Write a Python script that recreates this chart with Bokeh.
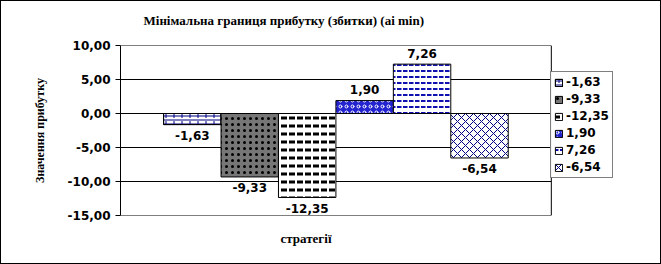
from bokeh.plotting import figure
from bokeh.models import (ColumnDataSource, Range1d, FixedTicker, LabelSet,
                          Legend, LegendItem, Title)
from bokeh.core.properties import value
from bokeh.embed import file_html
from bokeh.resources import INLINE

# ---- data ----
values = [-1.63, -9.33, -12.35, 1.90, 7.26, -6.54]
value_labels = ["-1,63", "-9,33", "-12,35", "1,90", "7,26", "-6,54"]
y_ticks = [-15, -10, -5, 0, 5, 10]
y_tick_labels = ["-15,00", "-10,00", "-5,00", "0,00", "5,00", "10,00"]
title_text = "Мінімальна границя прибутку (збитки) (аі min)"
y_title = "Значення прибутку"
x_title = "стратегії"

# ---- fill / hatch layers for each bar (styles only) ----
layers = [
    [dict(fill="white", pat="horizontal_line", hc="#000080", sc=4, w=1),
     dict(fill=None, pat="vertical_dash", hc="#000080", sc=8, w=1)],
    [dict(fill="#767676", pat="dot", hc="black", sc=6, w=1)],
    [dict(fill="white", pat="horizontal_dash", hc="black", sc=8, w=3)],
    [dict(fill="#2323d0", pat="ring", hc="white", sc=6, w=1)],
    [dict(fill="white", pat="horizontal_dash", hc="#1010b0", sc=6, w=2)],
    [dict(fill="white", pat="diagonal_cross", hc="#000080", sc=8, w=1)],
]

n = len(values)
x_lo, x_hi = -1.25, n + 0.25          # plot-area extent in category units
p = figure(width=661, height=264, output_backend="svg", toolbar_location=None,
           x_range=Range1d(x_lo, x_lo + 8.6), y_range=Range1d(y_ticks[0], y_ticks[-1]),
           min_border_left=119, min_border_right=48, min_border_top=44,
           min_border_bottom=50)
p.styles = {"border": "1px solid black", "box-sizing": "border-box"}
p.background_fill_color = "white"
p.border_fill_color = "white"
p.outline_line_color = None

p.xaxis.visible = False
p.xgrid.visible = False
p.ygrid.visible = False

# plot-area grid lines and right edge
p.segment(x0=[x_lo] * len(y_ticks), x1=[x_hi] * len(y_ticks), y0=y_ticks, y1=y_ticks,
          line_color="black", line_width=1, level="underlay")
p.segment(x0=[x_hi], x1=[x_hi], y0=[y_ticks[0]], y1=[y_ticks[-1]],
          line_color="black", line_width=1, level="underlay")

ya = p.yaxis[0]
ya.ticker = FixedTicker(ticks=y_ticks)
ya.major_label_overrides = {t: l for t, l in zip(y_ticks, y_tick_labels)}
ya.major_label_text_font = "DejaVu Sans"
ya.major_label_text_font_style = "bold"
ya.major_label_text_font_size = "12px"
ya.major_label_text_color = "black"
ya.major_tick_out = 5
ya.major_tick_in = 0
ya.minor_tick_out = 0
ya.minor_tick_in = 0
ya.major_label_standoff = 5
ya.axis_line_color = "black"
ya.major_tick_line_color = "black"
ya.axis_label = y_title
ya.axis_label_text_font = "Liberation Serif"
ya.axis_label_text_font_style = "bold"
ya.axis_label_text_font_size = "12px"
ya.axis_label_text_color = "black"
ya.axis_label_standoff = 18

p.title = Title(text=title_text + "\n ", align="left", offset=23,
                text_font="Liberation Serif", text_font_style="bold",
                text_font_size="13px", text_color="black",
                text_line_height=0.85)
p.add_layout(Title(text=x_title, align="left", offset=160,
                   text_font="Liberation Serif", text_font_style="bold",
                   text_font_size="13px", text_color="black", standoff=27), "below")

items = []
for i, (v, lab, lay) in enumerate(zip(values, value_labels, layers)):
    src = ColumnDataSource(dict(x=[i], top=[v]))
    rs = []
    for L in lay:
        r = p.vbar(x="x", top="top", bottom=0, width=1, source=src,
                   fill_color=L["fill"], line_color="black", line_width=1,
                   hatch_pattern=L["pat"], hatch_color=L["hc"],
                   hatch_scale=L["sc"], hatch_weight=L["w"])
        rs.append(r)
    items.append(LegendItem(label=lab, renderers=rs))

lab_src = ColumnDataSource(dict(
    x=list(range(n)), y=values, text=value_labels,
    yoff=[-11 if v < 0 else 11 for v in values]))
p.add_layout(LabelSet(x="x", y="y", text="text", y_offset="yoff", source=lab_src,
                      text_align="center", text_baseline="middle",
                      text_font=value("DejaVu Sans"), text_font_style="bold",
                      text_font_size="12px", text_color="black"))

legend = Legend(items=items, location=(430, 37), border_line_color="black",
                border_line_width=1, background_fill_color="white",
                padding=3, spacing=3, glyph_width=9, glyph_height=9,
                label_standoff=3, label_height=14, margin=0,
                label_text_font="DejaVu Sans", label_text_font_style="bold",
                label_text_font_size="12px", label_text_color="black")
p.add_layout(legend)

open("out.html", "w").write(file_html(p, INLINE))
